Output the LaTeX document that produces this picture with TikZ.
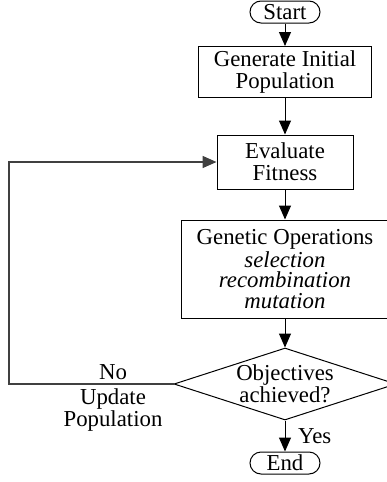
\documentclass[tikz,border=0pt]{standalone}
\usepackage{fontspec}
\setmainfont{Liberation Serif}
\usetikzlibrary{shapes.geometric,arrows.meta}
\begin{document}
\begin{tikzpicture}[x=0.5pt,y=-0.5pt,line width=0.5pt,
    every node/.style={font=\fontsize{11.4}{11.2}\selectfont},
    term/.style={draw,rounded corners=5.5pt,minimum width=35pt,minimum height=11pt,inner sep=0pt},
    proc/.style={draw,align=center,inner sep=0pt},
    decide/.style={draw,diamond,align=center,inner sep=0pt,shape aspect=3.08,minimum width=111pt,minimum height=36pt},
    flow/.style={-{Triangle[width=6pt,length=7pt]}}]
    \useasboundingbox (0,0) rectangle (386,482);

    % blocks
    \node[term] (start) at (285,12) {Start};
    \node[proc,minimum width=86.5pt,minimum height=25.5pt] (init) at (285,72) {Generate Initial\\Population};
    \node[proc,minimum width=68pt,minimum height=27pt] (eval) at (285,162) {Evaluate\\Fitness};
    \node[proc,minimum width=104pt,minimum height=49pt,font=\fontsize{11.4}{10.2}\selectfont] (genop) at (285,269)
        {Genetic Operations\\\textit{selection}\\\textit{recombination}\\\textit{mutation}};
    \node[decide] (obj) at (285,384) {Objectives\\achieved?};
    \node[term] (stop) at (285,463) {End};

    % arrows
    \draw[flow] (start) -- (init);
    \draw[flow] (init) -- (eval);
    \draw[flow] (eval) -- (genop);
    \draw[flow] (genop) -- (obj);
    \draw[flow] (obj) -- node[right,xshift=3pt] (yes) {Yes} (stop);

    % loop back
    \coordinate (back) at (9,384);
    \draw[flow,draw=black!75,line width=0.8pt] (obj.west) -- (back) |- (eval.west);
    \node[above,inner sep=2pt] (no) at (113,384) {No};
    \node[below,align=center,inner sep=0pt,font=\fontsize{11.4}{9}\selectfont] (upd) at (113,388) {Update\\Population};
\end{tikzpicture}
\end{document}
